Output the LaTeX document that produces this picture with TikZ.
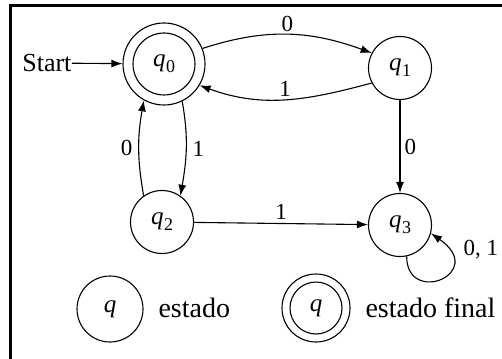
\documentclass[tikz,border=0pt]{standalone}
\usepackage{fontspec}
\setmainfont{Liberation Serif}
\usetikzlibrary{arrows.meta}
% state name: italic q with a lowered index
\newcommand{\stname}[1]{\textit{q}\kern0.5pt\raisebox{-6pt}{\fontsize{18}{18}\selectfont #1}}
\begin{document}
\begin{tikzpicture}[x=1pt,y=-1pt,
  line width=1.1pt,
  state/.style={circle,draw,line width=1.1pt,minimum size=#1,inner sep=0pt,
    font=\fontsize{25}{25}\selectfont},
  state/.default=63pt,
  inner ring/.style={path picture={\draw[line width=1.1pt]
    (path picture bounding box.center) circle[radius=#1];}},
  edge/.style={-{Latex[length=11pt,width=8pt]},line width=1.1pt},
  lab/.style={font=\fontsize{23}{23}\selectfont,inner sep=2pt},
  txt/.style={font=\fontsize{28}{28}\selectfont,inner sep=0pt}]
\useasboundingbox (0,0) rectangle (502,358);

% frame
\draw[line width=3pt,line cap=rect] (10,358) -- (10,6) -- (502,6);

% states
\node[state=82pt,inner ring=31pt] (q0) at (164,64) {\stname{0}};
\node[state] (q1) at (400,68) {\stname{1}};
\node[state] (q2) at (162,222) {\stname{2}};
\node[state] (q3) at (400,225) {\stname{3}};

% start arrow
\node[txt,anchor=east,font=\fontsize{26}{26}\selectfont] (start) at (72,63) {Start};
\draw[edge] (start) -- (q0);

% transitions
\draw[edge] (q0.22) to[out=18,in=160] node[lab,above] {0} (q1.152);
\draw[edge] (q1.208) to[out=195,in=-20] node[lab,above,pos=0.5] {1} (q0.-31);
\draw[edge] (q0.-64) to[out=-80,in=80] node[lab,right,xshift=4pt] {1} (q2.55);
\draw[edge] (q2.125) to[out=100,in=-100] node[lab,left,xshift=-4pt] {0} (q0.-119);
\draw[edge] (q1) -- node[lab,right,xshift=2pt] {0} (q3);
\draw[edge] (q2) -- node[lab,above,yshift=1pt] {1} (q3);
% self loop below right of q3
\draw[edge] (q3.-78) .. controls +(90:50) and +(35:70) .. (q3.-15);
\node[lab,anchor=west] (loop) at (461,250) {0, 1};

% legend
\node[state=66pt] (lq) at (110,309) {\textit{q}};
\node[txt,anchor=west] (ltext) at (158,308) {estado};
\node[state=68pt,inner ring=26pt] (lqf) at (316,308) {\textit{q}};
\node[txt,anchor=west] (lftext) at (365,308) {estado final};
\end{tikzpicture}
\end{document}
